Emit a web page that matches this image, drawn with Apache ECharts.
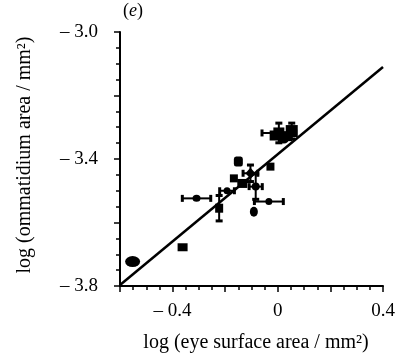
<!DOCTYPE html>
<html>
<head>
<meta charset="utf-8">
<script src="https://cdn.jsdelivr.net/npm/echarts@6/dist/echarts.min.js"></script>
<style>
html,body{margin:0;padding:0;background:#fff;}
#chart{width:405px;height:359px;}
</style>
</head>
<body>
<div id="chart"></div>
<script>
// ---- data ----
const xValues = [-0.552, -0.362, -0.309, -0.223, -0.193, -0.150, -0.167, -0.135, -0.104, -0.084, -0.034, -0.091, -0.028, 0.004, 0.053, 0.023, 0.036, -0.012];
const yValues = [-3.723, -3.678, -3.524, -3.555, -3.500, -3.408, -3.461, -3.477, -3.445, -3.487, -3.534, -3.566, -3.424, -3.318, -3.312, -3.334, -3.328, -3.326];
const xErrors = [0, 0, 0.054, 0, 0.028, 0, 0, 0, 0.028, 0.025, 0.055, 0, 0, 0.064, 0, 0, 0, 0];
const yErrors = [0, 0, 0, 0.04, 0, 0, 0, 0, 0.026, 0.04, 0, 0, 0, 0.031, 0.025, 0, 0, 0];
const fitX = [-0.6, 0.4];
const fitY = [-3.797, -3.11];
const xTickLabels = { '-0.4': '\u2013 0.4', '0': '0', '0.4': '0.4' };
const yTickLabels = { '-3': '\u2013 3.0', '-3.4': '\u2013 3.4', '-3.8': '\u2013 3.8' };
const xTitle = 'log (eye surface area / mm\u00B2)';
const yTitle = 'log (ommatidium area / mm\u00B2)';

// ---- styles (kept separate from data) ----
const markerShapes = ['circle', 'rect', 'circle', 'rect', 'circle', 'roundRect', 'rect', 'rect', 'diamond', 'circle', 'circle', 'circle', 'rect', 'rect', 'rect', 'circle', 'rect', 'rect'];
const markerSizes = [[15, 11], [10, 8], [8, 7], [8, 9], [7, 7], [9, 10], [8, 8], [10, 9], [10, 11], [8, 8], [7, 7], [8, 10], [8, 8], [11, 11], [12, 12], [11, 11], [10, 10], [10, 10]];

const FONT = '"Liberation Serif", "DejaVu Serif", serif';
const chart = echarts.init(document.getElementById('chart'), null, { renderer: 'canvas' });

function key(v) { return String(Math.round(v * 100) / 100); }

const scatterData = xValues.map((x, i) => ({
  value: [x, yValues[i]],
  symbol: markerShapes[i],
  symbolSize: markerSizes[i]
}));
const errData = xValues.map((x, i) => [x, yValues[i], xErrors[i], yErrors[i]]);

chart.setOption({
  animation: false,
  backgroundColor: '#fff',
  grid: { left: 120, right: 22, top: 32, bottom: 73 },
  xAxis: {
    type: 'value', min: -0.6, max: 0.4, interval: 0.2,
    axisLine: { onZero: false, lineStyle: { color: '#000', width: 2 } },
    axisTick: { length: 6, lineStyle: { color: '#000', width: 1.5 } },
    minorTick: { show: true, splitNumber: 4, length: 4, lineStyle: { color: '#000', width: 1.5 } },
    splitLine: { show: false },
    axisLabel: {
      margin: 16, color: '#000', fontFamily: FONT, fontSize: 19,
      formatter: v => xTickLabels[key(v)] || ''
    }
  },
  yAxis: {
    type: 'value', min: -3.8, max: -3.0, interval: 0.2,
    axisLine: { onZero: false, lineStyle: { color: '#000', width: 2 } },
    axisTick: { length: 6, lineStyle: { color: '#000', width: 1.5 } },
    minorTick: { show: true, splitNumber: 4, length: 4, lineStyle: { color: '#000', width: 1.5 } },
    splitLine: { show: false },
    axisLabel: {
      margin: 22, color: '#000', fontFamily: FONT, fontSize: 19,
      formatter: v => yTickLabels[key(v)] || ''
    }
  },
  graphic: [
    {
      type: 'text', left: 123, top: 2,
      style: {
        text: '({e|e})', fill: '#000', font: '18px ' + FONT,
        rich: { e: { fontStyle: 'italic', fontFamily: FONT, fontSize: 18, fill: '#000' } }
      }
    },
    {
      type: 'text', x: 256, y: 343,
      style: { text: xTitle, fill: '#000', font: '20px ' + FONT, textAlign: 'center', textVerticalAlign: 'middle' }
    },
    {
      type: 'text', x: 25, y: 155, rotation: Math.PI / 2,
      style: { text: yTitle, fill: '#000', font: '20px ' + FONT, textAlign: 'center', textVerticalAlign: 'middle' }
    }
  ],
  series: [
    {
      type: 'line', data: fitX.map((x, i) => [x, fitY[i]]),
      symbol: 'none', lineStyle: { color: '#000', width: 2.5 }, z: 2, silent: true
    },
    {
      type: 'custom', data: errData, z: 3, silent: true,
      encode: { x: 0, y: 1 },
      renderItem: function (params, api) {
        const x = api.value(0), y = api.value(1), ex = api.value(2), ey = api.value(3);
        const children = [];
        const st = { stroke: '#000', lineWidth: 2 };
        const cst = { stroke: '#000', lineWidth: 3 };
        const cap = 3.5;
        if (ex > 0) {
          const a = api.coord([x - ex, y]), b = api.coord([x + ex, y]);
          children.push({ type: 'line', shape: { x1: a[0], y1: a[1], x2: b[0], y2: b[1] }, style: st });
          children.push({ type: 'line', shape: { x1: a[0], y1: a[1] - cap, x2: a[0], y2: a[1] + cap }, style: cst });
          children.push({ type: 'line', shape: { x1: b[0], y1: b[1] - cap, x2: b[0], y2: b[1] + cap }, style: cst });
        }
        if (ey > 0) {
          const a = api.coord([x, y - ey]), b = api.coord([x, y + ey]);
          children.push({ type: 'line', shape: { x1: a[0], y1: a[1], x2: b[0], y2: b[1] }, style: st });
          children.push({ type: 'line', shape: { x1: a[0] - cap, y1: a[1], x2: a[0] + cap, y2: a[1] }, style: cst });
          children.push({ type: 'line', shape: { x1: b[0] - cap, y1: b[1], x2: b[0] + cap, y2: b[1] }, style: cst });
        }
        return { type: 'group', children: children };
      }
    },
    {
      type: 'scatter', data: scatterData, z: 4, silent: true,
      itemStyle: { color: '#000', opacity: 1 }
    }
  ]
});
</script>
</body>
</html>
